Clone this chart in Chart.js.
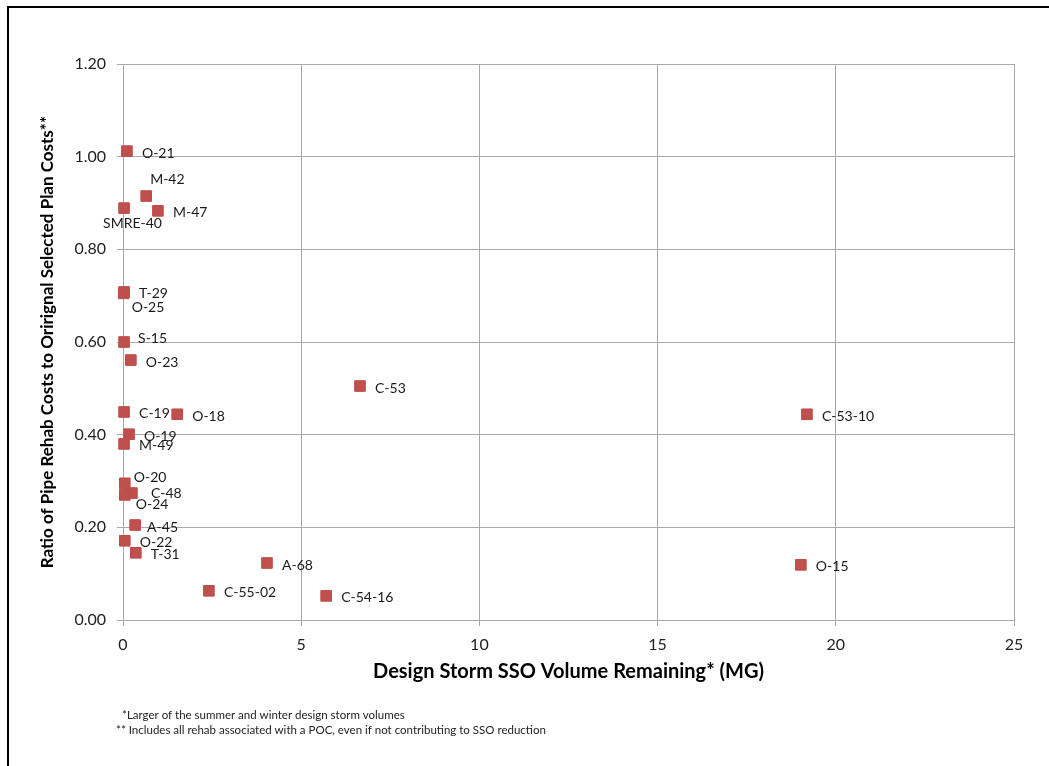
<!DOCTYPE html>
<html>
<head>
<meta charset="utf-8">
<style>
  html, body { margin: 0; padding: 0; background: #fff; }
  #wrap { position: relative; width: 1049px; height: 766px; overflow: hidden; }
  #frame { position: absolute; left: 7px; top: 6px; right: -10px; bottom: -10px;
           border-left: 2px solid #000; border-top: 2px solid #000; pointer-events: none; }
  canvas { position: absolute; left: 0; top: 0; }
</style>
<script src="https://cdn.jsdelivr.net/npm/chart.js@4"></script>
</head>
<body>
<div id="wrap">
  <canvas id="ssoChart" width="1049" height="766"></canvas>
  <div id="frame"></div>
</div>
<script>
// point names and values
const siteNames = ["O-21", "M-42", "SMRE-40", "M-47", "T-29", "O-25", "S-15", "O-23", "C-53", "C-19",
  "O-18", "C-53-10", "O-19", "M-49", "O-20", "C-48", "O-24", "A-45", "O-22", "T-31",
  "A-68", "O-15", "C-55-02", "C-54-16"];
const ssoVolume = [0.11, 0.65, 0.03, 0.98, 0.03, 0.02, 0.03, 0.22, 6.65, 0.03,
  1.52, 19.19, 0.17, 0.03, 0.05, 0.25, 0.05, 0.34, 0.05, 0.36,
  4.04, 19.02, 2.41, 5.70];
const costRatio = [1.012, 0.915, 0.889, 0.883, 0.708, 0.705, 0.600, 0.561, 0.505, 0.449,
  0.444, 0.444, 0.401, 0.380, 0.295, 0.274, 0.270, 0.205, 0.171, 0.145,
  0.123, 0.119, 0.063, 0.052];
const footnotes = [
  "*Larger of the summer and winter design storm volumes",
  "** Includes all rehab associated with a POC, even if not contributing to SSO reduction"
];

// label placement (pixels from the marker), default is right of the marker
const labelShift = {
  "M-42": [4, -17], "SMRE-40": [-21, 15], "O-25": [8, 14], "S-15": [14, -4],
  "O-20": [9, -6], "C-48": [19, 0], "O-24": [11, 10], "A-45": [12, 2]
};

const FONT = 'Lato, "Open Sans", sans-serif';
Chart.defaults.font.family = FONT;
Chart.defaults.color = '#000';

const pointLabels = {
  id: 'pointLabels',
  afterDatasetsDraw(chart) {
    const ctx = chart.ctx;
    const meta = chart.getDatasetMeta(0);
    ctx.save();
    ctx.font = '14px ' + FONT;
    ctx.fillStyle = '#1a1a1a';
    ctx.textBaseline = 'middle';
    ctx.textAlign = 'left';
    meta.data.forEach((pt, i) => {
      const s = labelShift[siteNames[i]] || [15, 2];
      ctx.fillText(siteNames[i], pt.x + s[0], pt.y + s[1]);
    });
    ctx.restore();
  },
  afterDraw(chart) {
    const ctx = chart.ctx;
    ctx.save();
    ctx.font = '11.5px ' + FONT;
    ctx.fillStyle = '#222';
    ctx.textBaseline = 'middle';
    ctx.fillText(footnotes[0], 122, 715);
    ctx.fillText(footnotes[1], 116, 730);
    ctx.restore();
  }
};

new Chart(document.getElementById('ssoChart'), {
  type: 'scatter',
  data: {
    datasets: [{
      label: 'Sites',
      data: ssoVolume.map((x, i) => ({ x: x, y: costRatio[i] })),
      backgroundColor: '#c0504d',
      borderColor: '#be4b48',
      borderWidth: 1,
      pointStyle: 'rect',
      pointRadius: 7.5,
      pointHoverRadius: 7.5,
      clip: false
    }]
  },
  options: {
    responsive: false,
    animation: false,
    layout: { padding: { left: 33, right: 35, top: 64, bottom: 80 } },
    plugins: {
      legend: { display: false },
      tooltip: { enabled: false }
    },
    scales: {
      x: {
        type: 'linear',
        min: 0,
        max: 25,
        afterFit(scale) { scale.height = 66; },
        grid: { color: '#a9a9a9', tickLength: 6, tickColor: '#a9a9a9' },
        border: { color: '#a9a9a9' },
        ticks: { stepSize: 5, padding: 9, font: { size: 16 }, color: '#222' },
        title: {
          display: true,
          text: 'Design Storm SSO Volume Remaining* (MG)',
          font: { size: 20, weight: 'bold' },
          padding: { top: 0, bottom: 2 }
        }
      },
      y: {
        min: 0,
        max: 1.2,
        afterFit(scale) { scale.width = 90; },
        grid: { color: '#a9a9a9', tickLength: 6, tickColor: '#a9a9a9' },
        border: { color: '#a9a9a9' },
        ticks: {
          stepSize: 0.2,
          padding: 11,
          font: { size: 16 },
          color: '#222',
          callback: v => v.toFixed(2)
        },
        title: {
          display: true,
          text: 'Ratio of Pipe Rehab Costs to Orirignal Selected Plan Costs**',
          font: { size: 17, weight: 'bold' },
          padding: { top: 4, bottom: 0 }
        }
      }
    }
  },
  plugins: [pointLabels]
});
</script>
</body>
</html>
